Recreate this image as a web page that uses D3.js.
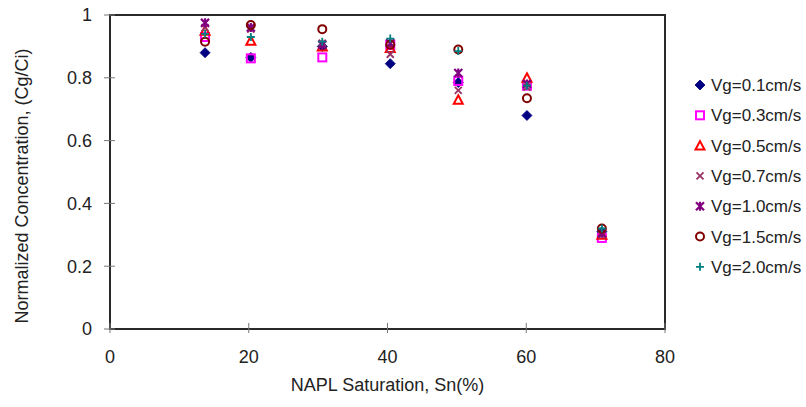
<!DOCTYPE html>
<html>
<head>
<meta charset="utf-8">
<script src="https://cdn.jsdelivr.net/npm/d3@7"></script>
<style>
  body { margin: 0; background: #fff; }
  svg { display: block; font-family: "Liberation Sans", Arial, sans-serif; }
  .tick-label { font-size: 18px; fill: #222; }
  .axis-title { font-size: 18px; fill: #222; }
  .legend-text { font-size: 17px; fill: #222; }
</style>
</head>
<body>
<div id="chart"></div>
<script>
'use strict';

// NAPL saturation (%) for each measurement group
var saturation = [13.7, 20.3, 30.6, 40.4, 50.2, 60.1, 70.9];

// normalized concentration Cg/Ci, one array per gas velocity
var vg01 = [0.88, 0.865, 0.90, 0.845, 0.785, 0.68, 0.31];
var vg03 = [0.93, 0.862, 0.865, 0.905, 0.79, 0.775, 0.29];
var vg05 = [0.95, 0.918, 0.90, 0.895, 0.73, 0.80, 0.30];
var vg07 = [0.96, 0.955, 0.91, 0.875, 0.76, 0.77, 0.30];
var vg10 = [0.975, 0.96, 0.905, 0.91, 0.815, 0.78, 0.305];
var vg15 = [0.915, 0.968, 0.955, 0.905, 0.89, 0.735, 0.32];
var vg20 = [0.94, 0.93, 0.915, 0.925, 0.885, 0.775, 0.32];

var seriesNames = ['Vg=0.1cm/s', 'Vg=0.3cm/s', 'Vg=0.5cm/s', 'Vg=0.7cm/s',
                   'Vg=1.0cm/s', 'Vg=1.5cm/s', 'Vg=2.0cm/s'];
var seriesValues = [vg01, vg03, vg05, vg07, vg10, vg15, vg20];

var xTicks = [0, 20, 40, 60, 80];
var yTicks = [0, 0.2, 0.4, 0.6, 0.8, 1];

var styles = [
  {shape: 'diamond', color: '#000080'},
  {shape: 'square', color: '#ff00ff'},
  {shape: 'triangle', color: '#ff0000'},
  {shape: 'x', color: '#993366'},
  {shape: 'star', color: '#800080'},
  {shape: 'circle', color: '#800000'},
  {shape: 'plus', color: '#008080'}
];

var width = 806, height = 407;
var plot = {left: 110, right: 665, top: 15, bottom: 329};

var x = d3.scaleLinear().domain([0, 80]).range([plot.left, plot.right]);
var y = d3.scaleLinear().domain([0, 1]).range([plot.bottom, plot.top]);

var svg = d3.select('#chart').append('svg')
    .attr('width', width)
    .attr('height', height);

// plot frame
svg.append('rect')
    .attr('x', plot.left)
    .attr('y', plot.top)
    .attr('width', plot.right - plot.left)
    .attr('height', plot.bottom - plot.top)
    .style('fill', 'none')
    .style('stroke', '#2a2a2a')
    .style('stroke-width', 2);

// cross ticks
svg.append('g').selectAll('line')
    .data(yTicks)
    .enter().append('line')
    .attr('x1', plot.left - 6)
    .attr('x2', plot.left + 5)
    .attr('y1', function(d) { return y(d); })
    .attr('y2', function(d) { return y(d); })
    .style('stroke', '#777')
    .style('stroke-width', 1);

svg.append('g').selectAll('line')
    .data(xTicks)
    .enter().append('line')
    .attr('x1', function(d) { return x(d); })
    .attr('x2', function(d) { return x(d); })
    .attr('y1', plot.bottom - 6)
    .attr('y2', plot.bottom + 4)
    .style('stroke', '#777')
    .style('stroke-width', 1);

svg.append('g').selectAll('text')
    .data(yTicks)
    .enter().append('text')
    .attr('class', 'tick-label')
    .attr('x', plot.left - 18)
    .attr('y', function(d) { return y(d); })
    .attr('dy', '0.35em')
    .attr('text-anchor', 'end')
    .text(function(d) { return d3.format('~g')(d); });

svg.append('g').selectAll('text')
    .data(xTicks)
    .enter().append('text')
    .attr('class', 'tick-label')
    .attr('x', function(d) { return x(d); })
    .attr('y', 363)
    .attr('text-anchor', 'middle')
    .text(function(d) { return d; });

svg.append('text')
    .attr('class', 'axis-title')
    .attr('x', (plot.left + plot.right) / 2)
    .attr('y', 391)
    .attr('text-anchor', 'middle')
    .text('NAPL Saturation, Sn(%)');

svg.append('text')
    .attr('class', 'axis-title')
    .attr('transform', 'translate(28,' + ((plot.top + plot.bottom) / 2 + 14) + ') rotate(-90)')
    .attr('text-anchor', 'middle')
    .text('Normalized Concentration,  (Cg/Ci)');

function drawMarker(g, shape, color) {
  var r = 4.5;
  if (shape === 'diamond') {
    g.append('path')
      .attr('d', 'M0,' + (-r - 0.5) + 'L' + (r + 0.5) + ',0L0,' + (r + 0.5) + 'L' + (-r - 0.5) + ',0Z')
      .style('fill', color).style('stroke', color).style('stroke-width', 0.8);
  } else if (shape === 'square') {
    g.append('rect')
      .attr('x', -r + 0.5).attr('y', -r + 0.5)
      .attr('width', 2 * r - 1).attr('height', 2 * r - 1)
      .style('fill', 'none').style('stroke', color).style('stroke-width', 2);
  } else if (shape === 'triangle') {
    g.append('path')
      .attr('d', 'M0,' + (-r) + 'L' + r + ',' + (r - 0.5) + 'L' + (-r) + ',' + (r - 0.5) + 'Z')
      .style('fill', 'none').style('stroke', color).style('stroke-width', 2);
  } else if (shape === 'x') {
    g.append('path')
      .attr('d', 'M-3.5,-3.5L3.5,3.5M-3.5,3.5L3.5,-3.5')
      .style('stroke', color).style('stroke-width', 1.8);
  } else if (shape === 'star') {
    // excel "star": an x crossed by a vertical bar
    g.append('path')
      .attr('d', 'M-4,-4L4,4M-4,4L4,-4M0,-4.5L0,4.5')
      .style('stroke', color).style('stroke-width', 2.2);
  } else if (shape === 'circle') {
    g.append('circle')
      .attr('r', r - 0.5)
      .style('fill', 'none').style('stroke', color).style('stroke-width', 2);
  } else if (shape === 'plus') {
    g.append('path')
      .attr('d', 'M-4,0L4,0M0,-4L0,4')
      .style('stroke', color).style('stroke-width', 1.8);
  }
}

// points, series in legend order so later ones sit on top
seriesValues.forEach(function(vals, si) {
  var st = styles[si];
  var g = svg.append('g').attr('class', 'series');
  g.selectAll('g')
    .data(vals)
    .enter().append('g')
    .attr('transform', function(d, i) {
      return 'translate(' + x(saturation[i]) + ',' + y(d) + ')';
    })
    .each(function() { drawMarker(d3.select(this), st.shape, st.color); });
});

// legend
var legend = svg.append('g').selectAll('g')
    .data(seriesNames)
    .enter().append('g')
    .attr('transform', function(d, i) {
      return 'translate(700,' + (85 + i * 30.3) + ')';
    });

legend.each(function(d, i) {
  drawMarker(d3.select(this), styles[i].shape, styles[i].color);
});

legend.append('text')
    .attr('class', 'legend-text')
    .attr('x', 11)
    .attr('dy', '0.36em')
    .text(function(d) { return d; });
</script>
</body>
</html>
